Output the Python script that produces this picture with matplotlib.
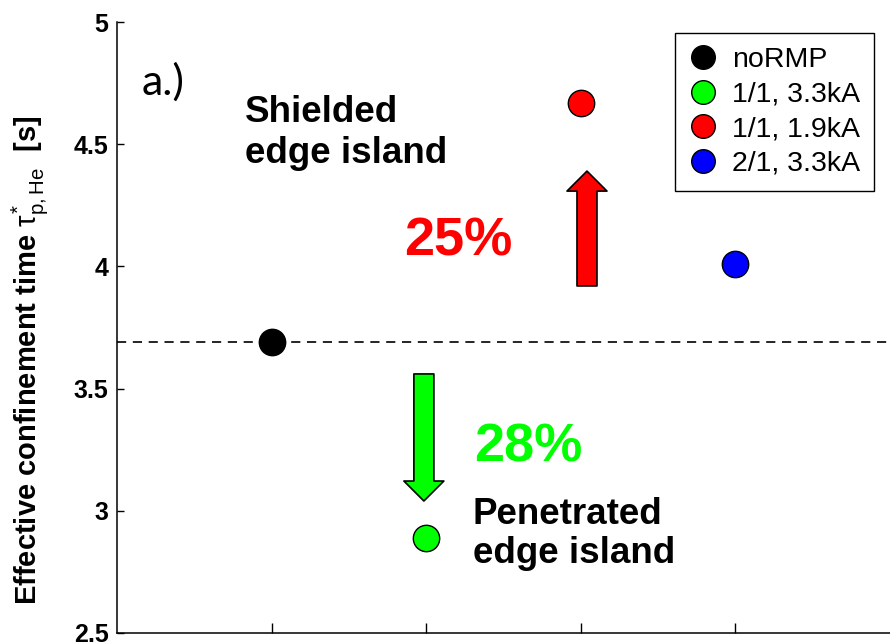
import matplotlib
matplotlib.use('Agg')
import matplotlib.pyplot as plt
from matplotlib.lines import Line2D

plt.rcParams['font.family'] = ['Liberation Sans', 'DejaVu Sans']
plt.rcParams['mathtext.fontset'] = 'custom'
plt.rcParams['mathtext.rm'] = 'Liberation Sans'
plt.rcParams['mathtext.it'] = 'Liberation Sans'

# confinement time per case
cases = ['noRMP', '1/1, 3.3kA', '1/1, 1.9kA', '2/1, 3.3kA']
xpos = [1, 2, 3, 4]
tau = [3.69, 2.89, 4.67, 4.01]
colors = ['#000000', '#00ff00', '#ff0000', '#0000ff']
reference = 3.69

fig = plt.figure(figsize=(8.9, 6.43), dpi=100)
ax = fig.add_axes([117 / 890, 10 / 643, 773 / 890, 611 / 643])

ax.axhline(reference, color='black', lw=1.2, dashes=(5.5, 4), zorder=1)
for x, y, c in zip(xpos, tau, colors):
    ax.plot(x, y, 'o', ms=19, mfc=c, mec='black', mew=1.0, zorder=3)

ax.set_xlim(0, 5.0)
ax.set_ylim(2.5, 5)
ax.set_xticks(xpos)
ax.set_xticklabels([])
ax.set_yticks([2.5, 3, 3.5, 4, 4.5, 5])
ax.set_yticklabels(['2.5', '3', '3.5', '4', '4.5', '5'])
ax.tick_params(axis='y', direction='in', length=5, width=1, labelsize=18, pad=6)
ax.tick_params(axis='x', direction='in', length=7, width=1)
for lab in ax.get_yticklabels():
    lab.set_fontweight('bold')
ax.spines['top'].set_visible(False)
ax.spines['right'].set_visible(False)
for s in ['left', 'bottom']:
    ax.spines[s].set_linewidth(1.1)

fig.text(30 / 890, 1 - 360 / 643,
         r'Effective confinement time $\tau^{*}_{\mathrm{p,He}}$  [s]',
         rotation=90, ha='center', va='center', fontsize=21, fontweight='bold')

# arrows showing the change against noRMP
arrow = 'simple,head_length=1.0,head_width=2.0,tail_width=1.0'
ax.annotate('', xy=(3.04, 4.39), xytext=(3.04, 3.92),
            arrowprops=dict(arrowstyle=arrow, mutation_scale=14.4, fc='#ff0000',
                            ec='black', lw=1.2, shrinkA=0, shrinkB=0))
ax.annotate('', xy=(1.985, 3.04), xytext=(1.985, 3.56),
            arrowprops=dict(arrowstyle=arrow, mutation_scale=14.4, fc='#00ff00',
                            ec='black', lw=1.2, shrinkA=0, shrinkB=0))

ax.text(0.16, 4.755, 'a.)', family='Lato', fontsize=31, ha='left', va='center')
ax.text(0.83, 4.70, 'Shielded\nedge island', fontsize=26.5, fontweight='bold',
        ha='left', va='top', linespacing=1.2)
ax.text(2.30, 3.055, 'Penetrated\nedge island', fontsize=26.5, fontweight='bold',
        ha='left', va='top', linespacing=1.15)
ax.text(1.86, 4.10, '25%', fontsize=39, fontweight='bold', color='#ff0000',
        ha='left', va='center')
ax.text(2.31, 3.26, '28%', fontsize=39, fontweight='bold', color='#00ff00',
        ha='left', va='center')

handles = [Line2D([], [], ls='none', marker='o', ms=17, mfc=c, mec='black', mew=1.0)
           for c in colors]
leg = ax.legend(handles, cases, loc='upper right', bbox_to_anchor=(874 / 890, 1 - 33 / 643),
                bbox_transform=fig.transFigure, borderaxespad=0, fontsize=20.5,
                fancybox=False, framealpha=1, edgecolor='black', handlelength=1.0,
                handletextpad=0.5, labelspacing=0.3, borderpad=0.5)
leg.get_frame().set_linewidth(1.0)

fig.savefig('out.png', dpi=100)
